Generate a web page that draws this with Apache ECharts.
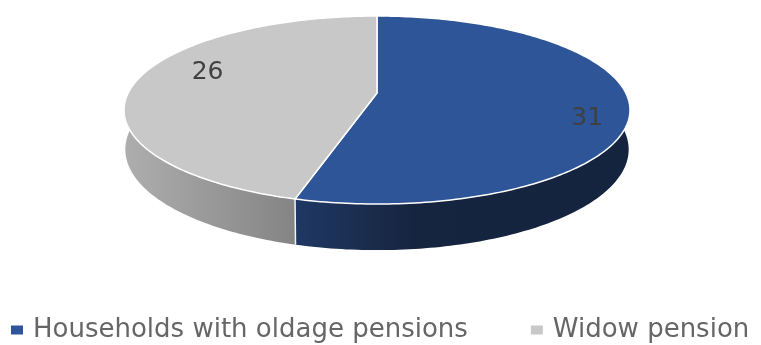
<!DOCTYPE html>
<html>
<head>
<meta charset="utf-8">
<style>html,body{margin:0;padding:0;background:#fff}#chart{width:761px;height:345px}</style>
<script src="https://cdn.jsdelivr.net/npm/echarts@6/dist/echarts.min.js"></script>
</head>
<body>
<div id="chart"></div>
<script>
// Pension households by type
const categories = ['Households with oldage pensions', 'Widow pension'];
const counts = [31, 26];

// Per-slice colours
const topColors = ['#2e5597', '#c8c8c8'];
const wallStops = [
  [[0, '#1f3864'], [0.35, '#16253f'], [1, '#14233e']],
  [[0, '#aeaeae'], [1, '#848484']]
];

// Value label placement: angle shift from the slice middle and radius fraction
const labelShift = [10.3, 10.8];
const labelRadius = [0.847, 0.75];

// Perspective projection of the tilted disc
const view = { cx: 377, k: 248.8, a: 74.1, b: 93, c: -0.181, e: 39, f: 0.005 };
const wallArc = [80, 280];

function project(deg, r, lower) {
  const t = deg * Math.PI / 180;
  const x = Math.sin(t) * r, y = -Math.cos(t) * r;
  const w = view.c * y + 1 + (lower ? view.f : 0);
  return [view.cx + view.k * x / w, (view.a * y + view.b + (lower ? view.e : 0)) / w];
}

function arcPoints(from, to, lower) {
  const pts = [];
  const n = Math.max(2, Math.ceil(Math.abs(to - from)));
  for (let i = 0; i <= n; i++) pts.push(project(from + (to - from) * i / n, 1, lower));
  return pts;
}

const total = counts.reduce((s, v) => s + v, 0);

function sliceRange(idx) {
  const before = counts.slice(0, idx).reduce((s, v) => s + v, 0);
  return [before / total * 360, (before + counts[idx]) / total * 360];
}

function renderSlice(idx) {
  const [start, end] = sliceRange(idx);
  const wallFrom = Math.max(start, wallArc[0]);
  const wallTo = Math.min(end, wallArc[1]);
  const children = [];

  // Outer wall of the disc
  children.push({
    type: 'polygon',
    z2: 1,
    shape: { points: arcPoints(wallFrom, wallTo, false).concat(arcPoints(wallTo, wallFrom, true)) },
    style: {
      fill: {
        type: 'linear', x: 0, y: 0, x2: 1, y2: 0,
        colorStops: wallStops[idx].map(s => ({ offset: s[0], color: s[1] }))
      }
    }
  });

  // Seam between the two walls
  if (idx === 0) {
    children.push({
      type: 'line',
      z2: 2,
      shape: {
        x1: project(end, 1, false)[0], y1: project(end, 1, false)[1],
        x2: project(end, 1, true)[0], y2: project(end, 1, true)[1]
      },
      style: { stroke: '#f2f2f2', lineWidth: 1.5 }
    });
  }

  // Top face
  children.push({
    type: 'polygon',
    z2: 5,
    shape: { points: [project(0, 0, false)].concat(arcPoints(start, end, false)) },
    style: { fill: topColors[idx], stroke: '#ffffff', lineWidth: 1.5, lineJoin: 'round' }
  });

  // Value label
  const mid = (start + end) / 2 + labelShift[idx];
  const p = project(mid, labelRadius[idx], false);
  children.push({
    type: 'text',
    z2: 10,
    x: p[0],
    y: p[1],
    style: {
      text: String(counts[idx]),
      fill: '#404040',
      font: '25px "DejaVu Sans"',
      align: 'center',
      verticalAlign: 'middle'
    }
  });
  return { type: 'group', children };
}

const chart = echarts.init(document.getElementById('chart'), null, { renderer: 'canvas' });
chart.setOption({
  animation: false,
  backgroundColor: '#ffffff',
  legend: {
    left: 11,
    top: 317,
    padding: 0,
    icon: 'rect',
    itemWidth: 12,
    itemHeight: 9,
    itemGap: 63,
    itemStyle: { borderWidth: 0 },
    textStyle: { color: '#666666', fontFamily: 'DejaVu Sans', fontSize: 26, padding: [0, 0, 0, 5] },
    data: categories
  },
  series: categories.map((name, idx) => ({
    type: 'custom',
    name,
    coordinateSystem: 'none',
    silent: true,
    itemStyle: { color: topColors[idx] },
    data: [counts[idx]],
    renderItem: () => renderSlice(idx)
  }))
});
</script>
</body>
</html>
